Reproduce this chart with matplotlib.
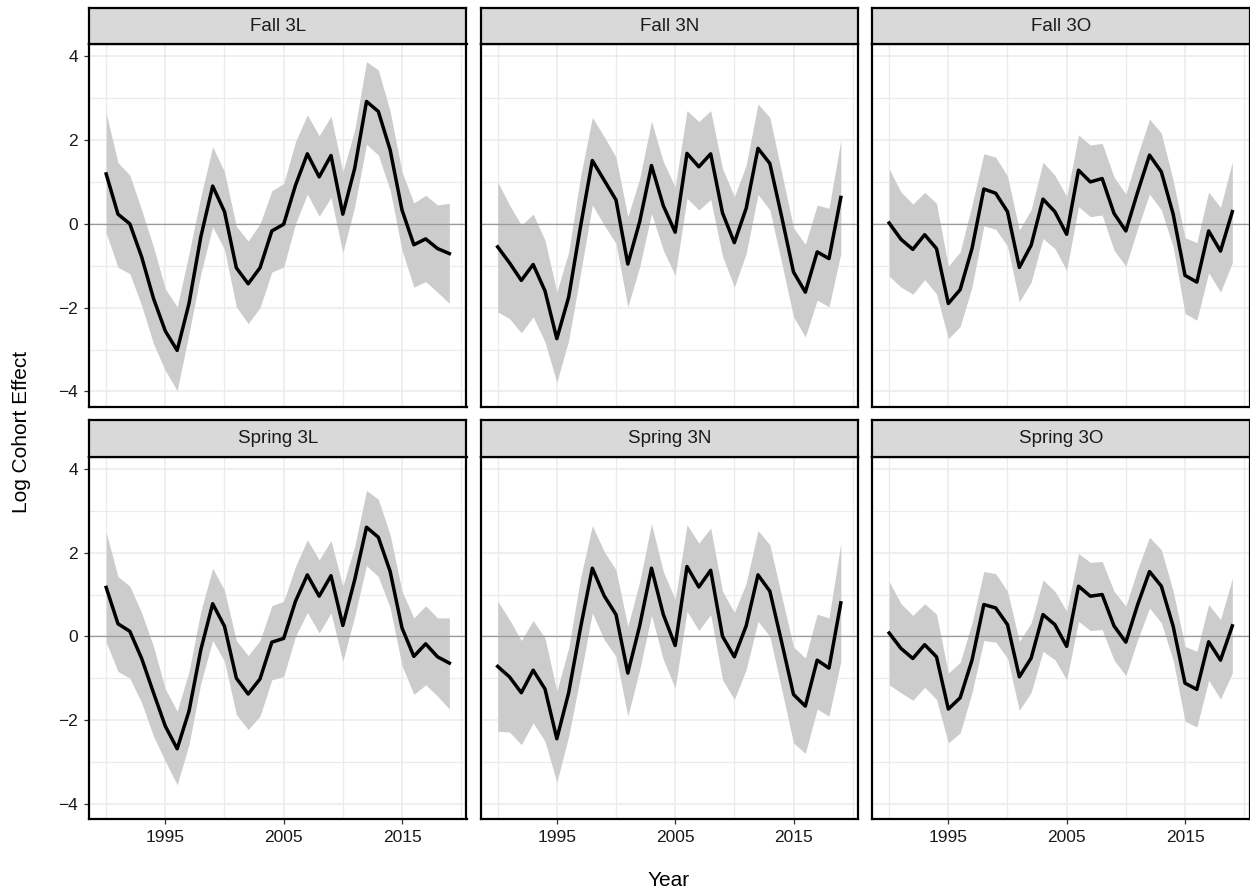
import numpy as np
import matplotlib
matplotlib.use("Agg")
import matplotlib.pyplot as plt

plt.rcParams['font.family'] = ['Liberation Sans', 'DejaVu Sans']

years = list(range(1990, 2020))

panels = ["Fall 3L", "Fall 3N", "Fall 3O", "Spring 3L", "Spring 3N", "Spring 3O"]

fall_3l = [1.19, 0.23, 0.00, -0.79, -1.78, -2.56, -3.02, -1.90, -0.31, 0.90,
           0.29, -1.05, -1.43, -1.05, -0.17, -0.01, 0.92, 1.67, 1.12, 1.63,
           0.23, 1.32, 2.92, 2.68, 1.76, 0.33, -0.50, -0.36, -0.59, -0.71]
fall_3l_hi = [2.64, 1.46, 1.16, 0.33, -0.55, -1.55, -1.98, -0.71, 0.65, 1.84,
              1.24, -0.06, -0.41, 0.00, 0.79, 0.96, 1.96, 2.60, 2.10, 2.57,
              1.24, 2.24, 3.87, 3.67, 2.68, 1.24, 0.50, 0.68, 0.45, 0.49]
fall_3l_lo = [-0.22, -1.04, -1.19, -1.95, -2.86, -3.50, -3.98, -2.62, -1.19, -0.07,
              -0.61, -1.98, -2.38, -2.00, -1.15, -1.03, 0.00, 0.71, 0.18, 0.63,
              -0.69, 0.41, 1.90, 1.64, 0.80, -0.63, -1.51, -1.38, -1.63, -1.90]

fall_3n = [-0.55, -0.93, -1.35, -0.97, -1.60, -2.74, -1.75, -0.07, 1.51, 1.04,
           0.57, -0.96, 0.05, 1.39, 0.43, -0.20, 1.68, 1.36, 1.67, 0.26,
           -0.45, 0.37, 1.80, 1.44, 0.17, -1.15, -1.63, -0.67, -0.83, 0.63]
fall_3n_hi = [1.00, 0.45, -0.03, 0.23, -0.39, -1.63, -0.67, 1.12, 2.54, 2.08,
              1.59, 0.17, 1.08, 2.45, 1.48, 0.88, 2.70, 2.44, 2.70, 1.32,
              0.65, 1.40, 2.86, 2.54, 1.22, -0.09, -0.49, 0.45, 0.37, 2.00]
fall_3n_lo = [-2.10, -2.26, -2.60, -2.22, -2.82, -3.78, -2.78, -1.19, 0.45, -0.03,
              -0.47, -1.98, -1.03, 0.25, -0.63, -1.23, 0.61, 0.33, 0.58, -0.77,
              -1.51, -0.71, 0.70, 0.33, -0.93, -2.22, -2.70, -1.82, -1.98, -0.71]

fall_3o = [0.02, -0.37, -0.61, -0.26, -0.59, -1.90, -1.57, -0.59, 0.83, 0.73,
           0.29, -1.04, -0.51, 0.59, 0.29, -0.25, 1.28, 1.00, 1.08, 0.25,
           -0.17, 0.76, 1.64, 1.24, 0.23, -1.23, -1.39, -0.17, -0.65, 0.29]
fall_3o_hi = [1.31, 0.76, 0.47, 0.75, 0.49, -1.01, -0.67, 0.45, 1.67, 1.59,
              1.14, -0.15, 0.34, 1.47, 1.16, 0.65, 2.12, 1.88, 1.92, 1.12,
              0.71, 1.64, 2.50, 2.16, 1.04, -0.33, -0.45, 0.76, 0.39, 1.48]
fall_3o_lo = [-1.25, -1.51, -1.68, -1.33, -1.67, -2.74, -2.45, -1.51, -0.05, -0.13,
              -0.53, -1.86, -1.39, -0.35, -0.59, -1.11, 0.41, 0.17, 0.21, -0.63,
              -1.01, -0.11, 0.71, 0.33, -0.55, -2.14, -2.30, -1.17, -1.63, -0.93]

spring_3l = [1.17, 0.30, 0.12, -0.53, -1.35, -2.15, -2.69, -1.79, -0.32, 0.78,
             0.24, -1.00, -1.38, -1.02, -0.14, -0.05, 0.84, 1.47, 0.96, 1.45,
             0.26, 1.35, 2.61, 2.37, 1.55, 0.20, -0.48, -0.18, -0.49, -0.64]
spring_3l_hi = [2.49, 1.43, 1.20, 0.56, -0.24, -1.26, -1.79, -0.84, 0.60, 1.63,
                1.10, -0.10, -0.46, -0.10, 0.73, 0.84, 1.67, 2.31, 1.83, 2.29,
                1.20, 2.15, 3.49, 3.28, 2.43, 1.08, 0.44, 0.73, 0.44, 0.44]
spring_3l_lo = [-0.14, -0.84, -1.00, -1.59, -2.39, -2.99, -3.55, -2.59, -1.12, -0.10,
                -0.60, -1.87, -2.23, -1.91, -1.04, -0.96, 0.00, 0.57, 0.08, 0.56,
                -0.60, 0.48, 1.69, 1.43, 0.68, -0.70, -1.39, -1.16, -1.43, -1.74]

spring_3n = [-0.72, -0.97, -1.35, -0.81, -1.26, -2.45, -1.35, 0.20, 1.63, 0.97,
             0.52, -0.88, 0.25, 1.63, 0.52, -0.22, 1.67, 1.18, 1.58, 0.00,
             -0.49, 0.25, 1.47, 1.08, -0.14, -1.39, -1.67, -0.57, -0.76, 0.80]
spring_3n_hi = [0.84, 0.40, -0.10, 0.38, -0.04, -1.31, -0.28, 1.39, 2.65, 2.03,
                1.59, 0.24, 1.31, 2.69, 1.55, 0.88, 2.67, 2.23, 2.59, 1.08,
                0.57, 1.27, 2.53, 2.19, 0.96, -0.25, -0.52, 0.53, 0.44, 2.23]
spring_3n_lo = [-2.27, -2.29, -2.59, -2.07, -2.51, -3.49, -2.39, -0.96, 0.56, -0.08,
                -0.48, -1.91, -0.80, 0.50, -0.56, -1.24, 0.60, 0.14, 0.52, -1.04,
                -1.51, -0.80, 0.36, 0.00, -1.27, -2.55, -2.80, -1.74, -1.91, -0.60]

spring_3o = [0.08, -0.29, -0.53, -0.20, -0.49, -1.74, -1.47, -0.57, 0.76, 0.68,
             0.28, -0.97, -0.52, 0.52, 0.28, -0.24, 1.20, 0.96, 1.00, 0.25,
             -0.14, 0.76, 1.55, 1.20, 0.24, -1.12, -1.27, -0.13, -0.57, 0.25]
spring_3o_hi = [1.31, 0.78, 0.50, 0.78, 0.53, -0.88, -0.62, 0.32, 1.55, 1.50,
                1.08, -0.12, 0.32, 1.35, 1.08, 0.60, 1.98, 1.77, 1.79, 1.08,
                0.72, 1.61, 2.37, 2.07, 1.08, -0.24, -0.36, 0.76, 0.40, 1.39]
spring_3o_lo = [-1.16, -1.35, -1.53, -1.22, -1.51, -2.55, -2.31, -1.35, -0.10, -0.14,
                -0.52, -1.77, -1.34, -0.36, -0.56, -1.04, 0.36, 0.14, 0.16, -0.57,
                -0.94, -0.08, 0.68, 0.32, -0.57, -2.03, -2.17, -1.05, -1.50, -0.88]

series = [
    (fall_3l, fall_3l_lo, fall_3l_hi),
    (fall_3n, fall_3n_lo, fall_3n_hi),
    (fall_3o, fall_3o_lo, fall_3o_hi),
    (spring_3l, spring_3l_lo, spring_3l_hi),
    (spring_3n, spring_3n_lo, spring_3n_hi),
    (spring_3o, spring_3o_lo, spring_3o_hi),
]

W, H = 1250, 896
fig = plt.figure(figsize=(W / 100, H / 100), dpi=100)

col_left = [89, 480.5, 872]
col_w = 377.5
rows = [(8, 44, 407), (420, 457, 819)]  # strip top, panel top, panel bottom (px)

grid_col = "#EBEBEB"

for k, name in enumerate(panels):
    r, c = divmod(k, 3)
    st, pt, pb = rows[r]
    x0 = col_left[c]
    ax = fig.add_axes([x0 / W, 1 - pb / H, col_w / W, (pb - pt) / H])
    sax = fig.add_axes([x0 / W, 1 - pt / H, col_w / W, (pt - st) / H])

    est, lo, hi = series[k]
    ax.fill_between(years, lo, hi, color="#CCCCCC", linewidth=0, zorder=2)
    ax.axhline(0, color="#999999", linewidth=0.9, zorder=2.5)
    ax.plot(years, est, color="black", linewidth=2.5, zorder=3)

    ax.set_xlim(1988.55, 2020.45)
    ax.set_ylim(-4.37, 4.29)
    ax.set_xticks([1995, 2005, 2015])
    ax.set_xticks([1990, 2000, 2010, 2020], minor=True)
    ax.set_yticks([-4, -2, 0, 2, 4])
    ax.set_yticks([-3, -1, 1, 3], minor=True)
    ax.grid(True, which="major", color=grid_col, linewidth=1.1, zorder=0)
    ax.grid(True, which="minor", color=grid_col, linewidth=0.9, zorder=0)
    ax.set_axisbelow(True)
    ax.tick_params(which="minor", length=0)
    ax.tick_params(which="major", length=3.5, width=0.9, color="#333333",
                   labelsize=12.5, labelcolor="#1A1A1A", pad=4.5)
    ax.set_yticklabels(["\u22124", "\u22122", "0", "2", "4"])
    if c != 0:
        ax.tick_params(axis="y", which="major", left=False, labelleft=False)
    if r != 1:
        ax.tick_params(axis="x", which="major", bottom=False, labelbottom=False)
    for sp in ax.spines.values():
        sp.set_linewidth(1.6)
        sp.set_color("black")

    sax.set_facecolor("#D9D9D9")
    sax.set_xticks([])
    sax.set_yticks([])
    for sp in sax.spines.values():
        sp.set_linewidth(1.6)
        sp.set_color("black")
    sax.text(0.5, 0.5, name, ha="center", va="center", fontsize=13.5,
             color="#1A1A1A", transform=sax.transAxes)

fig.text(22 / W, 1 - 432 / H, "Log Cohort Effect", rotation=90, ha="center",
         va="center", fontsize=15)
fig.text((89 + 1249) / 2 / W, 1 - 880 / H, "Year", ha="center", va="center",
         fontsize=15)

fig.savefig("out.png", dpi=100)
